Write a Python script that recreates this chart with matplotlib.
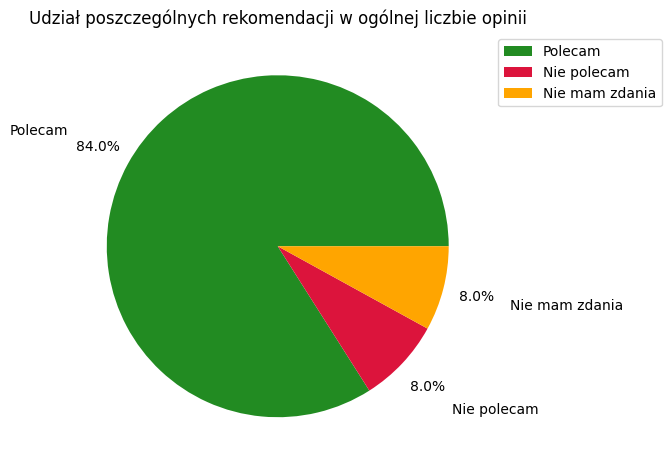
import matplotlib
matplotlib.use("Agg")
import matplotlib.pyplot as plt

labels = ["Polecam", "Nie polecam", "Nie mam zdania"]
values = [84, 8, 8]
colors = ["forestgreen", "crimson", "orange"]

fig = plt.figure(figsize=(6.71, 4.7), dpi=100)
ax = fig.add_axes([0.0954, 0.0213, 0.637, 0.9096])

ax.pie(values, labels=labels, colors=colors, autopct="%1.1f%%",
       pctdistance=1.2, labeldistance=1.4)
ax.set_title("Udział poszczególnych rekomendacji w ogólnej liczbie opinii")
ax.legend(loc="upper left", bbox_to_anchor=(1, 1))

fig.savefig("out.png")
